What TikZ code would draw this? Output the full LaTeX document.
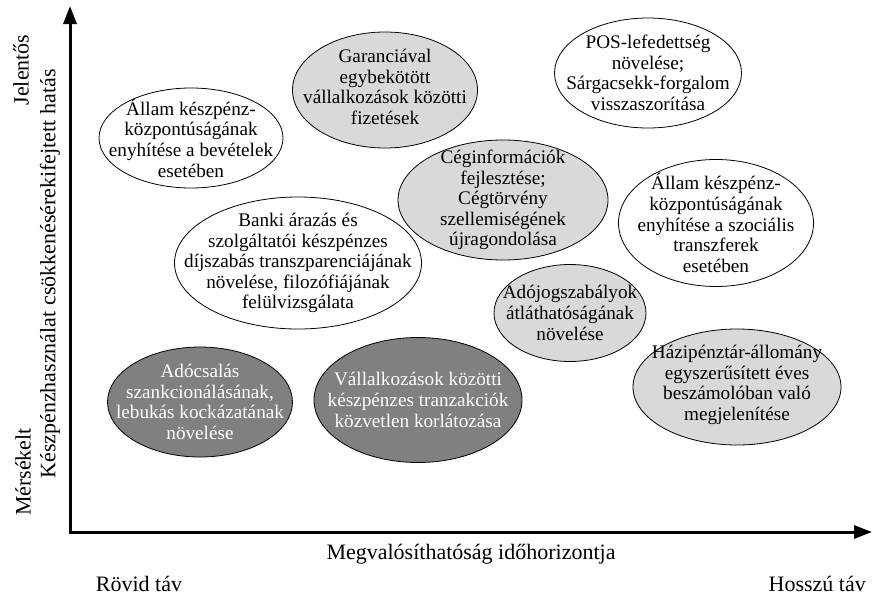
\documentclass[tikz,border=0pt]{standalone}
\usepackage{fontspec}
\setmainfont{Liberation Serif}
\usetikzlibrary{shapes.geometric,arrows.meta}
\definecolor{lightfill}{RGB}{217,217,217}
\definecolor{darkfill}{RGB}{128,128,128}
\tikzset{
  blob/.style={ellipse, draw=black, line width=0.8pt, inner sep=0pt},
  wblob/.style={blob, fill=white},
  lblob/.style={blob, fill=lightfill},
  dblob/.style={blob, fill=darkfill},
  txt/.style={align=center, inner sep=0pt, font=\fontsize{19.2}{20.6}\selectfont},
  wtxt/.style={txt, text=white},
  bigtxt/.style={align=center, inner sep=0pt, font=\fontsize{22}{25}\selectfont},
  axis/.style={line width=3pt, {Triangle[length=18pt,width=13pt]}-{Triangle[length=18pt,width=13pt]}}
}
\begin{document}
\begin{tikzpicture}[x=1pt,y=-1pt]
\useasboundingbox (0,0) rectangle (875,597);
% axes
\coordinate (ytop) at (70,6);
\coordinate (origin) at (70,532);
\coordinate (xend) at (872,532);
\draw[axis] (ytop) -- (origin) -- (xend);
% ellipses
\node[wblob, minimum width=184pt, minimum height=100pt] (e1) at (191,138) {};
\node[lblob, minimum width=185pt, minimum height=116pt] (e2) at (385,90) {};
\node[wblob, minimum width=187pt, minimum height=110pt] (e3) at (648,73) {};
\node[wblob, minimum width=247pt, minimum height=132pt] (e6) at (298,263) {};
\node[lblob, minimum width=210pt, minimum height=120pt] (e4) at (503,200) {};
\node[wblob, minimum width=195pt, minimum height=127pt] (e5) at (716,223) {};
\node[lblob, minimum width=152pt, minimum height=97pt] (e7) at (570,313) {};
\node[lblob, minimum width=208pt, minimum height=116pt] (e8) at (737,387) {};
\node[dblob, minimum width=185pt, minimum height=110pt] (e9) at (200,402) {};
\node[dblob, minimum width=208pt, minimum height=125pt] (e10) at (418,400) {};
% texts
\node[txt] (t1) at (e1) {Állam készpénz-\\központúságának\\enyhítése a bevételek\\esetében};
\node[txt] (t2) at ([yshift=3pt]e2.center) {Garanciával\\egybekötött\\vállalkozások közötti\\fizetések};
\node[txt] (t3) at (e3) {POS-lefedettség\\növelése;\\Sárgacsekk-forgalom\\visszaszorítása};
\node[txt] (t4) at (e4) {Céginformációk\\fejlesztése;\\Cégtörvény\\szellemiségének\\újragondolása};
\node[txt] (t5) at (e5) {Állam készpénz-\\központúságának\\enyhítése a szociális\\transzferek\\esetében};
\node[txt] (t6) at (e6) {Banki árazás és\\szolgáltatói készpénzes\\díjszabás transzparenciájának\\növelése, filozófiájának\\felülvizsgálata};
\node[txt] (t7) at (e7) {Adójogszabályok\\átláthatóságának\\növelése};
\node[txt] (t8) at ([yshift=2pt]e8.center) {Házipénztár-állomány\\egyszerűsített éves\\beszámolóban való\\megjelenítése};
\node[wtxt] (t9) at (e9) {Adócsalás\\szankcionálásának,\\lebukás kockázatának\\növelése};
\node[wtxt] (t10) at (e10) {Vállalkozások közötti\\készpénzes tranzakciók\\közvetlen korlátozása};
% axis labels
\node[bigtxt, rotate=90] (ylab) at (50,274) {Készpénzhasználat csökkenésérekifejtett hatás};
\node[bigtxt, rotate=90] (yhi) at (21,70) {Jelentős};
\node[bigtxt, rotate=90] (ylo) at (23,472) {Mérsékelt};
\node[bigtxt] (xlab) at (471,554) {Megvalósíthatóság időhorizontja};
\node[bigtxt] (xlo) at (139,584) {Rövid táv};
\node[bigtxt, anchor=east] (xhi) at (866,584) {Hosszú táv};
\end{tikzpicture}
\end{document}
